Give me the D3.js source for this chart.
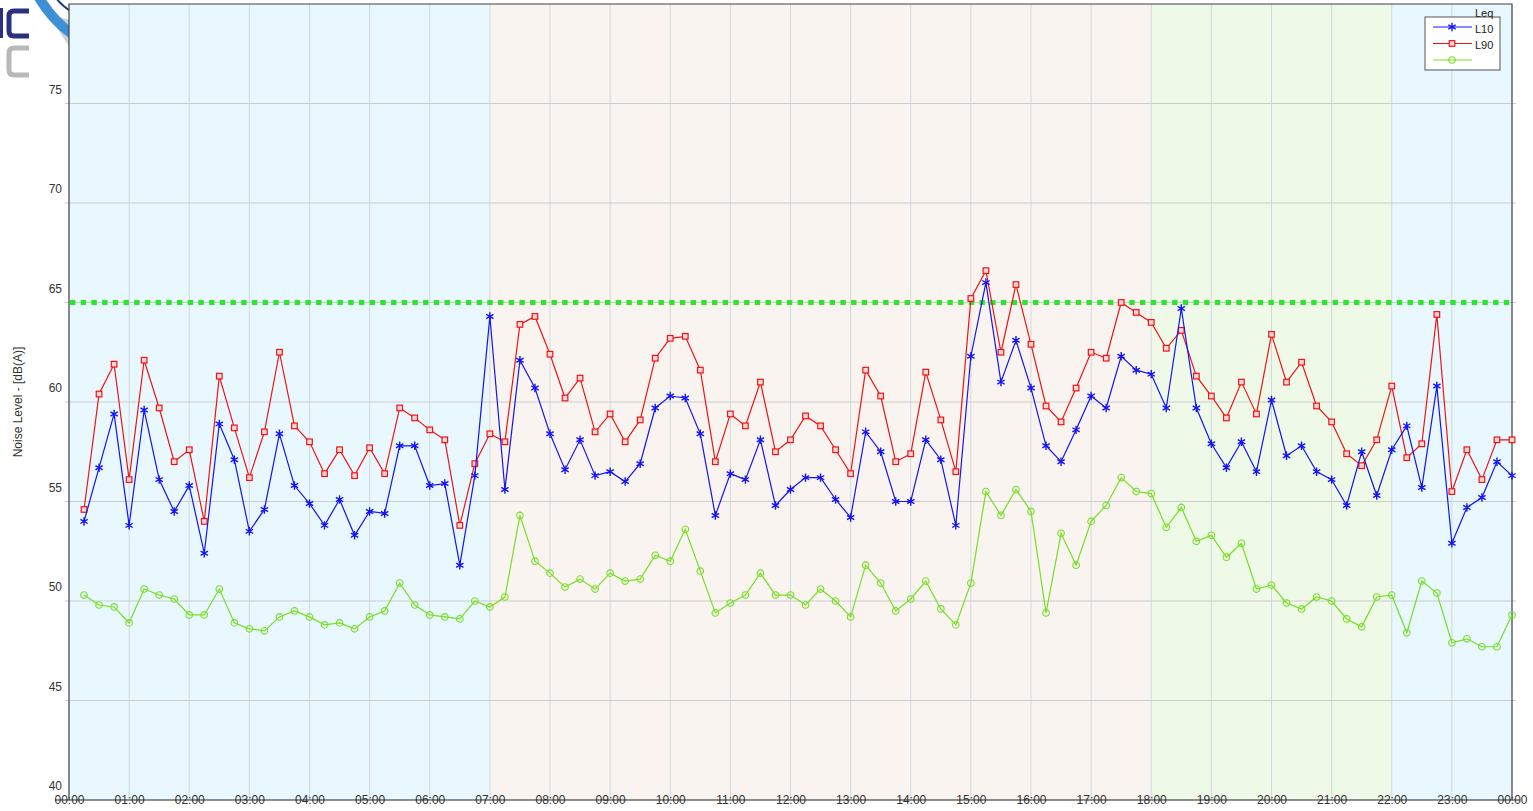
<!DOCTYPE html>
<html>
<head>
<meta charset="utf-8">
<script src="https://cdn.jsdelivr.net/npm/d3@7"></script>
<style>
	body { margin: 0; background: #fff; }
	svg { display: block; font-family: "Liberation Sans", Arial, sans-serif; }
</style>
</head>
<body>
<div id="container"></div>
<script>
// readings every 15 min, 00:15 .. 24:00
const l10 = [
	54.0, 56.7, 59.4, 53.8, 59.6, 56.1, 54.5, 55.8, 52.4, 58.9, 57.1, 53.5,
	54.6, 58.4, 55.8, 54.9, 53.8, 55.1, 53.3, 54.5, 54.4, 57.8, 57.8, 55.8,
	55.9, 51.8, 56.3, 64.3, 55.6, 62.1, 60.7, 58.4, 56.6, 58.1, 56.3, 56.5,
	56.0, 56.9, 59.7, 60.3, 60.2, 58.4, 54.3, 56.4, 56.1, 58.1, 54.8, 55.6,
	56.2, 56.2, 55.1, 54.2, 58.5, 57.5, 55.0, 55.0, 58.1, 57.1, 53.8, 62.3,
	66.0, 61.0, 63.1, 60.7, 57.8, 57.0, 58.6, 60.3, 59.7, 62.3, 61.6, 61.4,
	59.7, 64.7, 59.7, 57.9, 56.7, 58.0, 56.5, 60.1, 57.3, 57.8, 56.5, 56.1,
	54.8, 57.5, 55.3, 57.6, 58.8, 55.7, 60.8, 52.9, 54.7, 55.2, 57.0, 56.3
];
const l90 = [
	54.6, 60.4, 61.9, 56.1, 62.1, 59.7, 57.0, 57.6, 54.0, 61.3, 58.7, 56.2,
	58.5, 62.5, 58.8, 58.0, 56.4, 57.6, 56.3, 57.7, 56.4, 59.7, 59.2, 58.6,
	58.1, 53.8, 56.9, 58.4, 58.0, 63.9, 64.3, 62.4, 60.2, 61.2, 58.5, 59.4,
	58.0, 59.1, 62.2, 63.2, 63.3, 61.6, 57.0, 59.4, 58.8, 61.0, 57.5, 58.1,
	59.3, 58.8, 57.6, 56.4, 61.6, 60.3, 57.0, 57.4, 61.5, 59.1, 56.5, 65.2,
	66.6, 62.5, 65.9, 62.9, 59.8, 59.0, 60.7, 62.5, 62.2, 65.0, 64.5, 64.0,
	62.7, 63.6, 61.3, 60.3, 59.2, 61.0, 59.4, 63.4, 61.0, 62.0, 59.8, 59.0,
	57.4, 56.8, 58.1, 60.8, 57.2, 57.9, 64.4, 55.5, 57.6, 56.1, 58.1, 58.1
];
const leq = [
	50.3, 49.8, 49.7, 48.9, 50.6, 50.3, 50.1, 49.3, 49.3, 50.6, 48.9, 48.6,
	48.5, 49.2, 49.5, 49.2, 48.8, 48.9, 48.6, 49.2, 49.5, 50.9, 49.8, 49.3,
	49.2, 49.1, 50.0, 49.7, 50.2, 54.3, 52.0, 51.4, 50.7, 51.1, 50.6, 51.4,
	51.0, 51.1, 52.3, 52.0, 53.6, 51.5, 49.4, 49.9, 50.3, 51.4, 50.3, 50.3,
	49.8, 50.6, 50.0, 49.2, 51.8, 50.9, 49.5, 50.1, 51.0, 49.6, 48.8, 50.9,
	55.5, 54.3, 55.6, 54.5, 49.4, 53.4, 51.8, 54.0, 54.8, 56.2, 55.5, 55.4,
	53.7, 54.7, 53.0, 53.3, 52.2, 52.9, 50.6, 50.8, 49.9, 49.6, 50.2, 50.0,
	49.1, 48.7, 50.2, 50.3, 48.4, 51.0, 50.4, 47.9, 48.1, 47.7, 47.7, 49.3
];
const limit = 65;

const hourLabels = [
	"00:00", "01:00", "02:00", "03:00", "04:00", "05:00", "06:00", "07:00",
	"08:00", "09:00", "10:00", "11:00", "12:00", "13:00", "14:00", "15:00",
	"16:00", "17:00", "18:00", "19:00", "20:00", "21:00", "22:00", "23:00", "00:00"
];
const yTicks = [40, 45, 50, 55, 60, 65, 70, 75];

// day periods (hours)
const periodStart = [0, 7, 18, 22];
const periodEnd = [7, 18, 22, 24];
const periodColor = ["#e8f8fe", "#f9f4f0", "#eef9e8", "#e8f8fe"];

const width = 1533;
const height = 811;
const margin = { top: 4, right: 21, bottom: 11, left: 69 };

const svg = d3.select("#container").append("svg")
	.attr("width", width)
	.attr("height", height);

const x = d3.scaleLinear().domain([0, 24]).range([margin.left, width - margin.right]);
const y = d3.scaleLinear().domain([40, 80]).range([height - margin.bottom, margin.top]);
const slotHour = (i) => (i + 1) * 0.25;

// logo, half hidden behind the plot
const logo = svg.append("g").attr("class", "logo");
logo.append("path").attr("d", "M48,14 L70,48 L70,20 Z").attr("fill", "#cfd0d2");
logo.append("path").attr("d", "M38,-4 Q52,20 72,34").attr("fill", "none")
	.attr("stroke", "#3d8fd6").attr("stroke-width", 10);
logo.append("path").attr("d", "M56,-2 Q62,6 72,12").attr("fill", "none")
	.attr("stroke", "#263a80").attr("stroke-width", 2);
logo.append("rect").attr("x", 0).attr("y", 8).attr("width", 3).attr("height", 30).attr("fill", "#2d2f80");
logo.append("path").attr("d", "M29,11 H14 Q9,11 9,16 V31 Q9,36 14,36 H29")
	.attr("fill", "none").attr("stroke", "#2d2f80").attr("stroke-width", 5);
logo.append("path").attr("d", "M29,48 H14 Q9,48 9,53 V70 Q9,75 14,75 H29")
	.attr("fill", "none").attr("stroke", "#b8b9bb").attr("stroke-width", 5);

// background bands
svg.append("g").selectAll("rect")
	.data(periodStart)
	.join("rect")
	.attr("x", (d) => x(d))
	.attr("y", y(80))
	.attr("width", (d, i) => x(periodEnd[i]) - x(d))
	.attr("height", y(40) - y(80))
	.attr("fill", (d, i) => periodColor[i]);

// grid
svg.append("g").selectAll("line")
	.data(d3.range(1, 24))
	.join("line")
	.attr("x1", (d) => x(d)).attr("x2", (d) => x(d))
	.attr("y1", y(80)).attr("y2", y(40))
	.attr("stroke", "#d3d9db").attr("stroke-width", 1);

svg.append("g").selectAll("line")
	.data(yTicks.slice(1))
	.join("line")
	.attr("x1", x(0) - 4).attr("x2", x(24) + 4)
	.attr("y1", (d) => y(d)).attr("y2", (d) => y(d))
	.attr("stroke", "#cdcdcd").attr("stroke-width", 1);

// frame
svg.append("path")
	.attr("d", `M${x(0)},${y(40)} V${y(80)} H${x(24)} V${y(40)}`)
	.attr("fill", "none").attr("stroke", "#3a3f44").attr("stroke-width", 1.2);

// y tick labels (they sit above their grid lines)
svg.append("g").selectAll("text")
	.data(yTicks)
	.join("text")
	.attr("x", x(0) - 7)
	.attr("y", (d) => y(d) - 14)
	.attr("dy", "0.35em")
	.attr("text-anchor", "end")
	.attr("font-size", 12)
	.attr("fill", "#333")
	.text((d) => d);

svg.append("text")
	.attr("transform", `translate(22, ${(y(40) + y(80)) / 2}) rotate(-90)`)
	.attr("text-anchor", "middle")
	.attr("font-size", 12)
	.attr("fill", "#333")
	.text("Noise Level - [dB(A)]");

// x axis
const xAxis = d3.axisBottom(x)
	.tickValues(d3.range(0, 25))
	.tickFormat((d, i) => hourLabels[i])
	.tickSize(0)
	.tickPadding(0);

const gx = svg.append("g")
	.attr("transform", `translate(0, ${y(40)})`)
	.call(xAxis);
gx.select(".domain").remove();
gx.selectAll("text")
	.attr("y", 0)
	.attr("dy", "0.35em")
	.attr("font-size", 12)
	.attr("font-family", "Liberation Sans, Arial, sans-serif")
	.attr("fill", "#333");
svg.append("line")
	.attr("x1", 55).attr("x2", x(24) + 8)
	.attr("y1", y(40)).attr("y2", y(40))
	.attr("stroke", "#222").attr("stroke-width", 1.2);

// limit line
svg.append("line")
	.attr("x1", x(0) + 1).attr("x2", x(24))
	.attr("y1", y(limit)).attr("y2", y(limit))
	.attr("stroke", "#2be62b")
	.attr("stroke-width", 5)
	.attr("stroke-dasharray", "5.4,5.3");

// series
const series = [
	{ name: "L10", values: l10, color: "#1414f5", marker: "star" },
	{ name: "L90", values: l90, color: "#f01414", marker: "square" },
	{ name: "Leq", values: leq, color: "#74e020", marker: "circle" }
];

const lineGen = d3.line()
	.x((d, i) => x(slotHour(i)))
	.y((d) => y(d));

function drawMarker(g, type, color) {
	if (type === "star") {
		g.append("path")
			.attr("d", d3.symbol(d3.symbolAsterisk, 50)())
			.attr("fill", "none").attr("stroke", color).attr("stroke-width", 1.4);
	} else if (type === "square") {
		g.append("rect")
			.attr("x", -2.8).attr("y", -2.8).attr("width", 5.6).attr("height", 5.6)
			.attr("fill", "#fbd6d6").attr("stroke", color).attr("stroke-width", 1.2);
	} else {
		g.append("circle")
			.attr("r", 3.3)
			.attr("fill", "none").attr("stroke", color).attr("stroke-width", 1.1);
	}
}

// draw Leq first, then L90, then L10 on top
series.slice().reverse().forEach((s) => {
	const g = svg.append("g").attr("class", "series-" + s.name);
	g.append("path")
		.attr("d", lineGen(s.values))
		.attr("fill", "none")
		.attr("stroke", s.color)
		.attr("stroke-width", 1.2);
	g.selectAll("g")
		.data(s.values)
		.join("g")
		.attr("transform", (d, i) => `translate(${x(slotHour(i))}, ${y(d)})`)
		.each(function () { drawMarker(d3.select(this), s.marker, s.color); });
});

// legend (labels sit one row higher than their symbols)
const legend = svg.append("g").attr("transform", "translate(1425, 17)");
legend.append("rect")
	.attr("width", 75).attr("height", 53)
	.attr("fill", "#fff").attr("stroke", "#555").attr("stroke-width", 1);
const legendLabels = ["Leq", "L10", "L90"];
legend.selectAll("text")
	.data(legendLabels)
	.join("text")
	.attr("x", 50)
	.attr("y", (d, i) => -4 + i * 16)
	.attr("dy", "0.35em")
	.attr("font-size", 11)
	.attr("fill", "#222")
	.text((d) => d);
series.forEach((s, i) => {
	const row = legend.append("g").attr("transform", `translate(0, ${10 + i * 16.5})`);
	row.append("line")
		.attr("x1", 8).attr("x2", 47)
		.attr("stroke", s.color).attr("stroke-width", 1.2);
	const m = row.append("g").attr("transform", "translate(27, 0)");
	drawMarker(m, s.marker, s.color);
});
</script>
</body>
</html>
